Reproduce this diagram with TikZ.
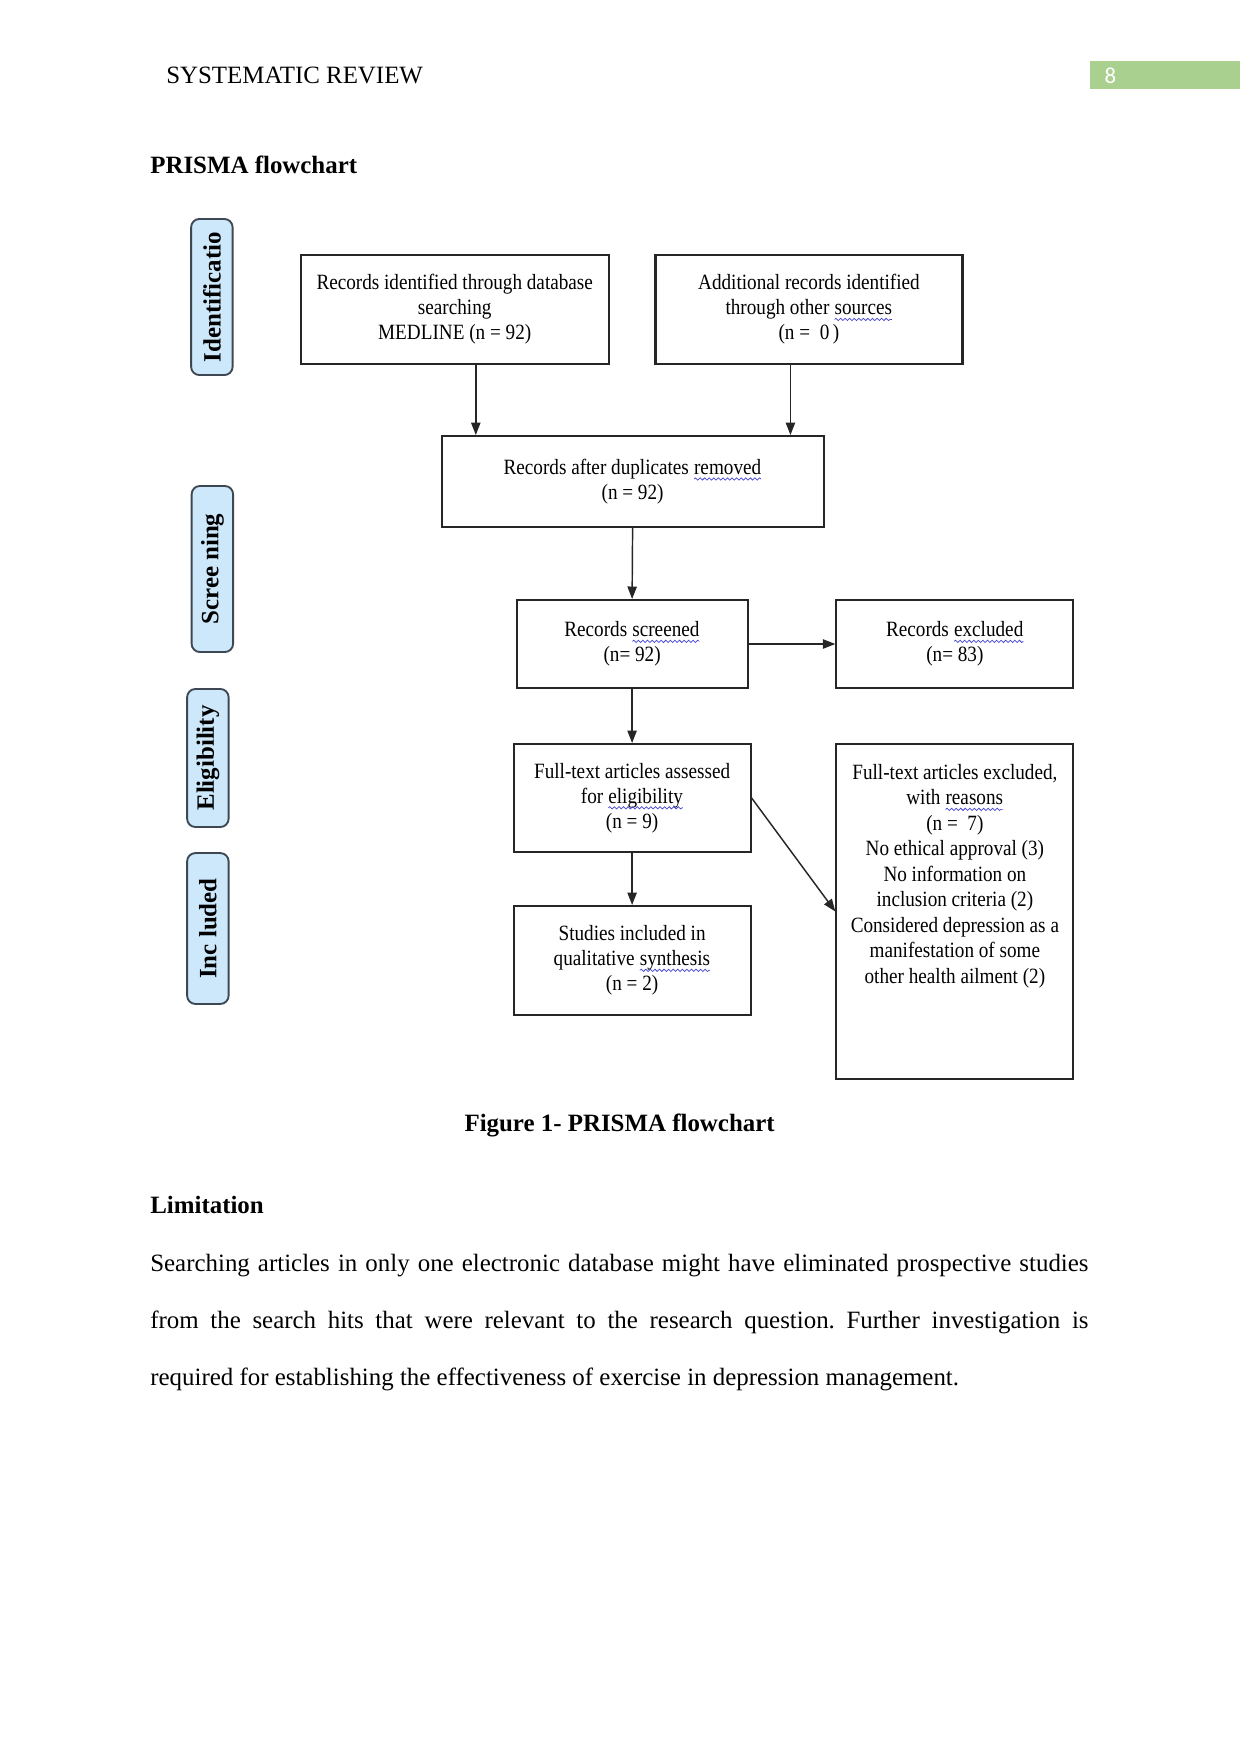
\documentclass[tikz,border=0pt]{standalone}
\usepackage{fontspec}
\setmainfont{Liberation Serif}
\newfontfamily\boxfont[FakeStretch=0.88]{Liberation Serif}
\newfontfamily\numfont{Carlito}
\usetikzlibrary{arrows.meta, positioning, calc, decorations.pathmorphing}
\definecolor{PageGreen}{RGB}{169,208,142}
\definecolor{PhaseFill}{RGB}{204,232,250}
\definecolor{PhaseEdge}{RGB}{62,72,82}
\definecolor{SpellBlue}{RGB}{70,70,210}
\frenchspacing
% spell-check wave under a word
\newcommand\squig[1]{\tikz[baseline=(sq.base)]{\node[inner sep=0pt, outer sep=0pt, draw=none, fill=none,
    minimum width=0pt, minimum height=0pt, anchor=base] (sq) {#1};
  \draw[SpellBlue, line width=0.35pt, decorate, decoration={snake, amplitude=0.55pt, segment length=2.2pt}]
    ([yshift=-2.2pt]sq.base west) -- ([yshift=-2.2pt]sq.base east);}}

\begin{document}
\begin{tikzpicture}[x=0.16922mm, y=-0.16933mm,
    txt/.style={inner sep=0pt, font=\fontsize{12}{14}\selectfont},
    ttl/.style={inner sep=0pt, font=\bfseries\fontsize{12}{14}\selectfont},
    box/.style={draw=black!85, line width=1pt, align=center,
                font=\boxfont\fontsize{10.5}{12}\selectfont, inner sep=2pt},
    phase/.style={draw=PhaseEdge, fill=PhaseFill, line width=0.9pt, rounded corners=4pt,
                  rotate=90, minimum height=20pt, inner sep=1pt,
                  font=\bfseries\fontsize{12}{14}\selectfont},
    arr/.style={-{Triangle[length=6pt, width=4.5pt]}, line width=0.7pt, black!85}
  ]
  \useasboundingbox (0,0) rectangle (1241,1754);

  % page header
  \node[txt, anchor=base west] (runhead) at (166,83) {SYSTEMATIC REVIEW};
  \node[fill=PageGreen, anchor=north west, minimum width=72.3pt, minimum height=13.5pt,
        inner sep=0pt] (pagebar) at (1090,61) {};
  \node[anchor=base west, text=white, inner sep=0pt,
        font=\numfont\fontsize{11}{13}\selectfont] (pagenum) at (1105,83) {8};

  \node[ttl, anchor=base west] (figtitle) at (150,173) {PRISMA flowchart};

  % phases
  \node[phase, minimum width=75.2pt] (phid) at (212,297) {Identificatio};
  \node[phase, minimum width=80pt] (phscr) at (212.5,569) {Scree\hspace{3pt}ning};
  \node[phase, minimum width=66.5pt] (phelig) at (208,758) {Eligibility};
  \node[phase, minimum width=72.7pt] (phincl) at (208,928.5) {Inc\hspace{3pt}luded};

  % identification
  \node[box, minimum width=148.4pt, minimum height=52.5pt] (recdb) at (455,309.5)
        {Records identified through database\\searching\\MEDLINE (n = 92)};
  \node[box, minimum width=147.9pt, minimum height=52.5pt] (recoth) at (809.5,309.5)
        {Additional records identified\\through other \squig{sources}\\(n =\ \ 0\,)};
  \node[box, minimum width=184pt, minimum height=43.8pt] (recdup) at (633,481.5)
        {Records after duplicates \squig{removed}\\(n = 92)};

  % screening
  \node[box, minimum width=111.3pt, minimum height=42.4pt] (recscr) at (632.5,644)
        {Records \squig{screened}\\(n= 92)};
  \node[box, minimum width=114.2pt, minimum height=42.4pt] (recexc) at (955.5,644)
        {Records \squig{excluded}\\(n= 83)};

  % eligibility
  \node[box, minimum width=114.2pt, minimum height=52pt] (ftass) at (632.5,798)
        {Full-text articles assessed\\for \squig{eligibility}\\(n = 9)};
  \node[box, minimum width=114.2pt, minimum height=161.4pt] (ftexc) at (955.5,911.5) {};
  \node[align=center, anchor=north, inner sep=0pt, font=\boxfont\fontsize{10.5}{12.3}\selectfont]
        (ftexctxt) at ([yshift=-10pt]ftexc.north)
        {Full-text articles excluded,\\with \squig{reasons}\\(n =\ \ 7)\\No ethical approval (3)\\
         No information on\\inclusion criteria (2)\\Considered depression as a\\
         manifestation of some\\other health ailment (2)};

  % included
  \node[box, minimum width=114.2pt, minimum height=52.5pt] (incl) at (632.5,960.5)
        {Studies included in\\qualitative \squig{synthesis}\\(n = 2)};

  \coordinate (dbout) at ($(recdb.south west)!0.568!(recdb.south east)$);
  \coordinate (othout) at ($(recoth.south west)!0.44!(recoth.south east)$);
  \draw[arr] (dbout) -- (dbout |- recdup.north);
  \draw[arr] (othout) -- (othout |- recdup.north);
  \draw[arr] (recdup.south) -- (recscr.north);
  \draw[arr] (recscr.east) -- (recexc.west);
  \draw[arr] (recscr.south) -- (ftass.north);
  \draw[arr] (ftass.south) -- (incl.north);
  \draw[arr] (ftass.east) -- (ftexc.west);

  % caption and text below
  \node[ttl, anchor=base] (figcap) at (620,1131) {Figure 1- PRISMA flowchart};
  \node[ttl, anchor=base west] (limhead) at (150,1213) {Limitation};
  \node[anchor=base west, text width=452pt, align=justify, inner sep=0pt,
        font=\fontsize{12}{27.6}\selectfont] (limtext) at (150,1271)
        {Searching articles in only one electronic database might have eliminated prospective studies\linebreak
         from the search hits that were relevant to the research question. Further investigation is\linebreak
         required for establishing the effectiveness of exercise in depression management.};
\end{tikzpicture}
\end{document}
